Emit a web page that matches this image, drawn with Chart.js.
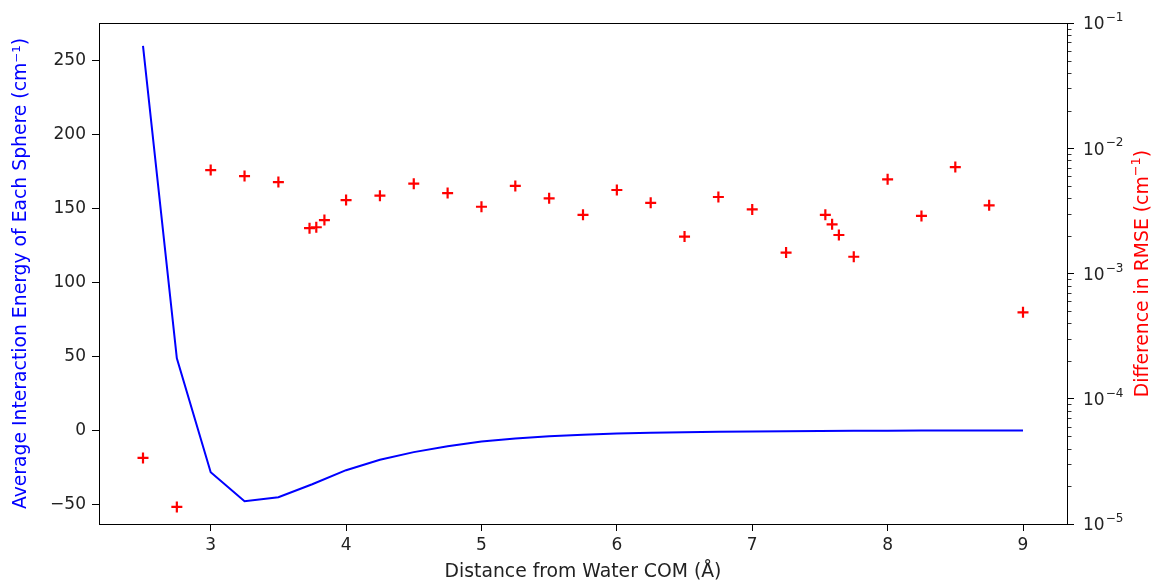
<!DOCTYPE html>
<html>
<head>
<meta charset="utf-8">
<script src="https://cdn.jsdelivr.net/npm/chart.js@4"></script>
<style>
  html, body { margin: 0; padding: 0; background: #fff; overflow: hidden; }
</style>
</head>
<body>
<canvas id="chart" width="1154" height="584"></canvas>
<script>
// blue line: average interaction energy per sphere
const distances = [2.5, 2.75, 3.0, 3.25, 3.5, 3.75, 4.0, 4.25, 4.5, 4.75, 5.0, 5.25, 5.5, 5.75, 6.0,
  6.25, 6.5, 6.75, 7.0, 7.25, 7.5, 7.75, 8.0, 8.25, 8.5, 8.75, 9.0];
const energies = [260, 48.6, -28.4, -48, -45.3, -36.5, -27, -20, -14.8, -10.8, -7.6, -5.5, -4.0, -3.0, -2.2,
  -1.7, -1.3, -1.0, -0.8, -0.6, -0.5, -0.4, -0.3, -0.25, -0.2, -0.15, -0.1];

// red crosses: difference in RMSE
const rmseDistances = [2.5, 2.75, 3.0, 3.25, 3.5, 3.73, 3.78, 3.84, 4.0, 4.25, 4.5, 4.75, 5.0, 5.25, 5.5,
  5.75, 6.0, 6.25, 6.5, 6.75, 7.0, 7.25, 7.54, 7.59, 7.64, 7.75, 8.0, 8.25, 8.5, 8.75, 9.0];
const rmseDiffs = [3.37e-5, 1.37e-5, 6.7e-3, 6.0e-3, 5.37e-3, 2.30e-3, 2.34e-3, 2.67e-3, 3.86e-3, 4.18e-3, 5.21e-3,
  4.39e-3, 3.41e-3, 5.0e-3, 3.98e-3, 2.94e-3, 4.64e-3, 3.67e-3, 1.97e-3, 4.08e-3, 3.25e-3, 1.47e-3,
  2.94e-3, 2.47e-3, 2.03e-3, 1.36e-3, 5.65e-3, 2.88e-3, 7.08e-3, 3.50e-3, 4.9e-4];

const xTicks = [3, 4, 5, 6, 7, 8, 9];
const energyTicks = [-50, 0, 50, 100, 150, 200, 250];
const rmseDecades = [-5, -4, -3, -2, -1];

const FONT = "'DejaVu Sans', sans-serif";
const FS = 17;     // tick labels
const TFS = 18.8;  // axis titles

const framePlugin = {
  id: "frame",
  beforeDraw(chart) {
    const ctx = chart.ctx;
    ctx.save();
    ctx.fillStyle = "#fff";
    ctx.fillRect(0, 0, chart.width, chart.height);
    ctx.restore();
  },
  afterDraw(chart) {
    const a = chart.chartArea;
    const ctx = chart.ctx;
    ctx.save();
    ctx.strokeStyle = "#000";
    ctx.lineWidth = 1;
    ctx.strokeRect(Math.round(a.left) + 0.5, Math.round(a.top) + 0.5,
      Math.round(a.right - a.left), Math.round(a.bottom - a.top));
    ctx.restore();
  }
};

// right log axis: minor ticks, 10^n labels and a bottom-to-top title like matplotlib
const logAxisPlugin = {
  id: "logAxis",
  afterDraw(chart) {
    const s = chart.scales.y2;
    const ctx = chart.ctx;
    const x0 = Math.round(s.left) + 0.5;
    ctx.save();
    ctx.strokeStyle = "#000";
    ctx.lineWidth = 0.8;
    rmseDecades.forEach((e) => {
      if (e === rmseDecades[rmseDecades.length - 1]) return;
      for (let m = 2; m <= 9; m++) {
        const y = Math.round(s.getPixelForValue(m * Math.pow(10, e))) + 0.5;
        ctx.beginPath();
        ctx.moveTo(x0, y);
        ctx.lineTo(x0 + 4, y);
        ctx.stroke();
      }
    });
    ctx.fillStyle = "#222";
    ctx.textBaseline = "middle";
    ctx.textAlign = "left";
    rmseDecades.forEach((e) => {
      const y = s.getPixelForValue(Math.pow(10, e));
      ctx.font = FS + "px " + FONT;
      ctx.fillText("10", 1083, y + 2);
      const w = ctx.measureText("10").width;
      ctx.font = "12px " + FONT;
      ctx.fillText("\u2212" + String(-e), 1083 + w + 1, y - 5);
    });
    ctx.translate(1143, (chart.chartArea.top + chart.chartArea.bottom) / 2);
    ctx.rotate(-Math.PI / 2);
    ctx.textAlign = "center";
    ctx.fillStyle = "#ff0000";
    ctx.font = TFS + "px " + FONT;
    const base = "Difference in RMSE (cm";
    const sup = "\u22121";
    const tail = ")";
    ctx.textAlign = "left";
    const wb = ctx.measureText(base).width;
    const wt = ctx.measureText(tail).width;
    ctx.font = "13px " + FONT;
    const ws = ctx.measureText(sup).width;
    const start = -(wb + ws + wt) / 2;
    ctx.font = TFS + "px " + FONT;
    ctx.fillText(base, start, 0);
    ctx.fillText(tail, start + wb + ws, 0);
    ctx.font = "13px " + FONT;
    ctx.fillText(sup, start + wb, -6);
    ctx.restore();
  }
};

const axisGrid = { display: true, drawOnChartArea: false, drawTicks: true, tickLength: 7, tickColor: "#000" };
const axisBorder = { display: true, color: "#000", width: 1 };

new Chart(document.getElementById("chart"), {
  type: "scatter",
  data: {
    datasets: [
      {
        type: "line",
        data: distances.map((d, i) => ({ x: d, y: energies[i] })),
        borderColor: "#0000ff",
        borderWidth: 2,
        pointRadius: 0,
        tension: 0,
        fill: false,
        yAxisID: "y"
      },
      {
        type: "scatter",
        data: rmseDistances.map((d, i) => ({ x: d, y: rmseDiffs[i] })),
        pointStyle: "cross",
        pointRadius: 5.5,
        borderWidth: 2.2,
        borderColor: "#ff0000",
        backgroundColor: "#ff0000",
        yAxisID: "y2"
      }
    ]
  },
  options: {
    responsive: false,
    animation: false,
    devicePixelRatio: 1,
    layout: { padding: { top: 23, left: 0, right: 0, bottom: 0 } },
    plugins: { legend: { display: false }, tooltip: { enabled: false } },
    scales: {
      x: {
        type: "linear",
        min: 2.175,
        max: 9.325,
        afterBuildTicks: (s) => { s.ticks = xTicks.map((v) => ({ value: v })); },
        afterFit: (s) => { s.height = 60; },
        grid: axisGrid,
        border: axisBorder,
        ticks: { color: "#222", font: { family: FONT, size: FS }, padding: 4, maxRotation: 0 },
        title: { display: true, text: "Distance from Water COM (\u00c5)", color: "#222",
          font: { family: FONT, size: TFS }, padding: { top: 0, bottom: 1 } }
      },
      y: {
        type: "linear",
        position: "left",
        min: -63.4,
        max: 275.4,
        afterBuildTicks: (s) => { s.ticks = energyTicks.map((v) => ({ value: v })); },
        afterFit: (s) => { s.width = 99; },
        grid: axisGrid,
        border: axisBorder,
        ticks: { color: "#222", font: { family: FONT, size: FS }, padding: 6,
          callback: (v) => String(v).replace("-", "\u2212") },
        title: { display: true, text: "Average Interaction Energy of Each Sphere (cm\u207b\u00b9)", color: "#0000ff",
          font: { family: FONT, size: TFS }, padding: { top: 10, bottom: 0 } }
      },
      y2: {
        type: "logarithmic",
        position: "right",
        min: 1e-5,
        max: 1e-1,
        afterBuildTicks: (s) => { s.ticks = rmseDecades.map((e) => ({ value: Math.pow(10, e) })); },
        afterFit: (s) => { s.width = 87; },
        grid: axisGrid,
        border: axisBorder,
        ticks: { display: false },
        title: { display: false }
      }
    }
  },
  plugins: [framePlugin, logAxisPlugin]
});
</script>
</body>
</html>
